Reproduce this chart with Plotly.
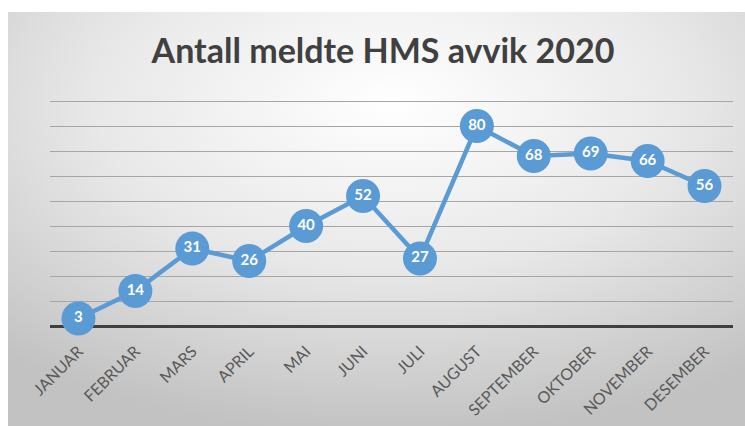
import plotly.graph_objects as go
import base64

months = ["JANUAR", "FEBRUAR", "MARS", "APRIL", "MAI", "JUNI", "JULI",
          "AUGUST", "SEPTEMBER", "OKTOBER", "NOVEMBER", "DESEMBER"]
avvik = [3, 14, 31, 26, 40, 52, 27, 80, 68, 69, 66, 56]
title_text = "Antall meldte HMS avvik 2020"

W, H = 745, 426
Y_TOP = 92
ml, mr, mb = 50, 12, 100
mt = round(H - mb - Y_TOP * 2.5)
pw, ph = W - ml - mr, H - mt - mb

svg = ('<svg xmlns="http://www.w3.org/2000/svg" width="737" height="414" preserveAspectRatio="none">'
       '<defs><radialGradient id="g" cx="52%" cy="22%" r="80%">'
       '<stop offset="0" stop-color="#FFFFFF"/><stop offset="0.5" stop-color="#E8E8E8"/>'
       '<stop offset="1" stop-color="#C2C2C2"/></radialGradient></defs>'
       '<rect width="737" height="414" fill="url(#g)"/></svg>')
src = "data:image/svg+xml;base64," + base64.b64encode(svg.encode()).decode()

# background box in pixels: x 8..745, y 12..426
bx0, bx1, by0, by1 = 8, 745, 12, 426
img = dict(source=src, xref="paper", yref="paper",
           x=(bx0 - ml) / pw, y=(H - mb - by0) / ph,
           sizex=(bx1 - bx0) / pw, sizey=(by1 - by0) / ph,
           xanchor="left", yanchor="top", sizing="stretch", layer="below")

fig = go.Figure()
fig.add_trace(go.Scatter(
    x=months, y=avvik, mode="lines+markers+text",
    line=dict(color="#5B9BD5", width=4.5),
    marker=dict(size=34, color="#5B9BD5"),
    text=[str(v) for v in avvik], textposition="middle center",
    textfont=dict(color="white", size=15, family="Lato", weight="bold"),
    cliponaxis=False, hoverinfo="skip",
))

fig.update_layout(
    width=W, height=H,
    margin=dict(l=ml, r=mr, t=mt, b=mb, autoexpand=False),
    paper_bgcolor="white", plot_bgcolor="rgba(0,0,0,0)",
    images=[img],
    showlegend=False,
    title=dict(text=title_text, x=383 / W, xanchor="center", y=1 - 51 / H, yanchor="middle",
               font=dict(family="Lato", size=34, color="#404040", weight="bold")),
    xaxis=dict(type="category", range=[-0.5, 11.5], showgrid=False, ticks="",
               tickangle=-45, automargin=False, ticklabelstandoff=12,
               tickfont=dict(family="Lato", size=16, color="#595959"),
               showline=False, zeroline=False),
    yaxis=dict(range=[0, Y_TOP], tickvals=[10, 20, 30, 40, 50, 60, 70, 80, 90],
               showgrid=True, gridcolor="#A6A6A6", gridwidth=1, automargin=False,
               showticklabels=False, zeroline=True, zerolinecolor="#404040", zerolinewidth=2.5,
               showline=False),
)

fig.write_html("out.html", config={"displayModeBar": False},
               post_script="document.body.style.margin='0';document.body.style.overflow='hidden';")
